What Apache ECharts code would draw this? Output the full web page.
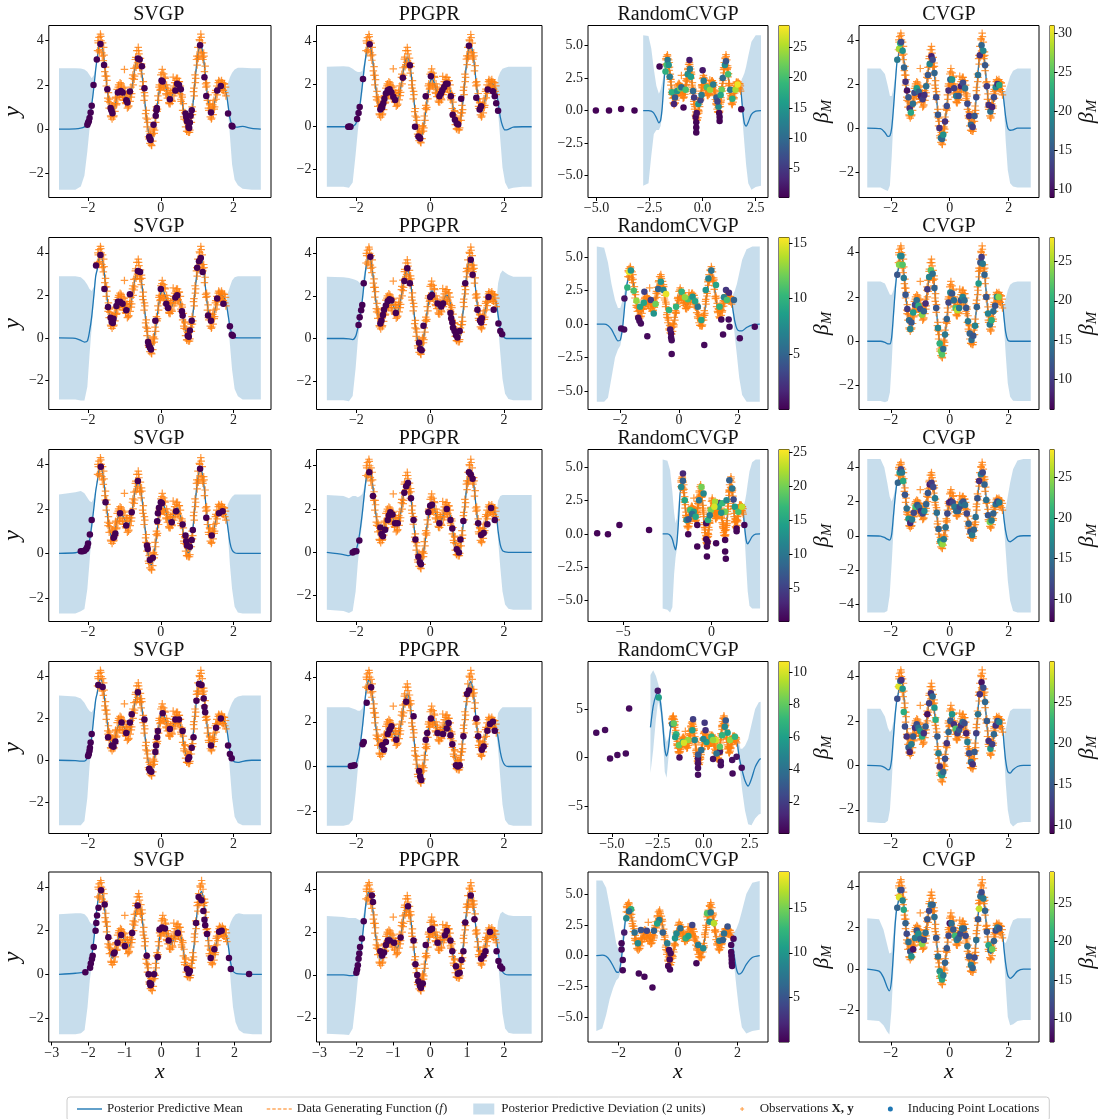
<!DOCTYPE html>
<html>
<head>
<meta charset="utf-8">
<script src="https://cdn.jsdelivr.net/npm/echarts@6/dist/echarts.min.js"></script>
<style>
html,body{margin:0;padding:0;background:#fff}
#chart{width:1101px;height:1119px}
</style>
</head>
<body>
<div id="chart"></div>
<script>
// ---- data -------------------------------------------------------------
const modelNames = ['SVGP', 'PPGPR', 'RandomCVGP', 'CVGP'];

// data generating function f over the observed range
const fX = [-1.75,-1.7,-1.65,-1.6,-1.55,-1.5,-1.45,-1.4,-1.35,-1.3,-1.25,-1.2,-1.15,-1.1,-1.05,-1.0,-0.95,-0.9,-0.85,-0.8,-0.75,-0.7,-0.65,-0.6,-0.55,-0.5,-0.45,-0.4,-0.35,-0.3,-0.25,-0.2,-0.15,-0.1,-0.05,0.0,0.05,0.1,0.15,0.2,0.25,0.3,0.35,0.4,0.45,0.5,0.55,0.6,0.65,0.7,0.75,0.8,0.85,0.9,0.95,1.0,1.05,1.1,1.15,1.2,1.25,1.3,1.35,1.4,1.45,1.5,1.55,1.6,1.65,1.7,1.75,1.8];
const fY = [3.2,3.72,3.9,3.62,3.0,2.2,1.5,1.0,0.75,0.8,1.1,1.5,1.72,1.8,1.7,1.55,1.36,1.25,1.4,1.8,2.35,2.85,3.18,3.2,2.88,2.2,1.4,0.6,-0.02,-0.45,-0.5,-0.2,0.35,1.0,1.65,2.1,2.24,2.1,1.8,1.5,1.38,1.45,1.7,1.95,2.04,1.95,1.6,1.1,0.6,0.2,0.02,0.1,0.62,1.4,2.35,3.15,3.65,3.8,3.5,2.85,2.0,1.3,0.85,0.75,0.95,1.4,1.8,2.0,2.03,1.98,1.85,1.6];

// noisy observations X, y
const obsX = [-1.74,-1.72,-1.7,-1.68,-1.66,-1.64,-1.62,-1.6,-1.58,-1.56,-1.54,-1.52,-1.5,-1.48,-1.46,-1.44,-1.42,-1.4,-1.38,-1.36,-1.34,-1.32,-1.3,-1.28,-1.26,-1.24,-1.22,-1.2,-1.18,-1.16,-1.14,-1.12,-1.1,-1.08,-1.06,-1.04,-1.02,-1.0,-0.98,-0.96,-0.94,-0.92,-0.9,-0.88,-0.86,-0.84,-0.82,-0.8,-0.78,-0.76,-0.74,-0.72,-0.7,-0.68,-0.66,-0.64,-0.62,-0.6,-0.58,-0.56,-0.54,-0.52,-0.5,-0.48,-0.46,-0.44,-0.42,-0.4,-0.38,-0.36,-0.34,-0.32,-0.3,-0.28,-0.26,-0.24,-0.22,-0.2,-0.18,-0.16,-0.14,-0.12,-0.1,-0.08,-0.06,-0.04,-0.02,0.0,0.02,0.04,0.06,0.08,0.1,0.12,0.14,0.16,0.18,0.2,0.22,0.24,0.26,0.28,0.3,0.32,0.34,0.36,0.38,0.4,0.42,0.44,0.46,0.48,0.5,0.52,0.54,0.56,0.58,0.6,0.62,0.64,0.66,0.68,0.7,0.72,0.74,0.76,0.78,0.8,0.82,0.84,0.86,0.88,0.9,0.92,0.94,0.96,0.98,1.0,1.02,1.04,1.06,1.08,1.1,1.12,1.14,1.16,1.18,1.2,1.22,1.24,1.26,1.28,1.3,1.32,1.34,1.36,1.38,1.4,1.42,1.44,1.46,1.48,1.5,1.52,1.54,1.56,1.58,1.6,1.62,1.64,1.66,1.68,1.7,1.72,1.74,1.76,1.78,
  -1.73,-1.69,-1.65,-1.61,-1.57,-1.53,-1.49,-1.45,-1.41,-1.37,-1.33,-1.29,-1.25,-1.21,-1.17,-1.13,-1.09,-1.05,-1.01,-0.97,-0.93,-0.89,-0.85,-0.81,-0.77,-0.73,-0.69,-0.65,-0.61,-0.57,-0.53,-0.49,-0.45,-0.41,-0.37,-0.33,-0.29,-0.25,-0.21,-0.17,-0.13,-0.09,-0.05,-0.01,0.03,0.07,0.11,0.15,0.19,0.23,0.27,0.31,0.35,0.39,0.43,0.47,0.51,0.55,0.59,0.63,0.67,0.71,0.75,0.79,0.83,0.87,0.91,0.95,0.99,1.03,1.07,1.11,1.15,1.19,1.23,1.27,1.31,1.35,1.39,1.43,1.47,1.51,1.55,1.59,1.63,1.67,1.71,1.75,1.79];
const obsY = [3.55,3.9,4.15,3.6,4.3,4.0,3.45,3.9,3.1,3.35,2.6,2.8,1.95,2.2,1.4,1.65,0.95,1.2,0.6,1.0,0.45,0.95,0.55,1.15,0.8,1.45,1.1,1.8,1.35,2.0,1.55,2.1,1.6,1.95,1.45,1.9,1.3,2.7,1.7,1.15,1.55,0.95,1.45,1.05,1.6,1.25,1.9,1.6,2.3,2.0,2.75,2.4,3.15,2.8,3.55,3.0,3.7,3.4,2.8,3.2,2.5,2.8,1.95,2.15,1.3,1.5,0.7,0.85,0.1,0.3,-0.35,-0.1,-0.65,-0.3,-0.72,-0.25,-0.55,0.05,-0.2,0.5,0.3,1.0,0.8,1.5,1.3,2.0,1.75,2.45,1.95,2.7,2.0,2.5,1.85,2.3,1.6,2.0,1.4,1.75,1.2,1.6,1.15,1.65,1.3,1.75,2.35,1.5,2.1,1.75,2.2,1.85,2.3,1.8,2.15,1.6,1.95,1.25,1.55,0.85,1.15,0.45,0.75,0.1,0.4,-0.1,0.25,-0.15,0.3,-0.05,0.5,0.3,1.0,0.8,1.7,1.5,2.45,2.3,3.15,2.9,3.7,3.3,4.05,3.5,4.3,3.45,3.9,3.15,3.45,2.6,2.85,1.9,2.1,1.3,1.55,0.85,1.15,0.55,0.95,0.5,1.0,0.65,1.3,1.0,1.65,1.35,1.95,1.7,2.1,1.85,2.15,1.9,2.1,1.8,2.1,1.75,2.05,1.65,1.9,
  4.0,3.5,4.2,3.3,3.7,2.4,2.4,1.25,1.35,0.55,1.05,0.6,1.4,1.15,1.9,1.45,2.05,1.45,1.85,1.2,1.6,1.0,1.7,1.45,2.45,2.25,3.25,2.9,3.55,2.75,2.95,1.8,1.65,0.5,0.45,-0.45,-0.2,-0.75,0.0,-0.05,0.85,0.9,1.9,1.8,2.55,1.9,2.35,1.55,1.85,1.15,1.65,1.25,1.95,1.65,2.3,1.75,2.15,1.35,1.45,0.55,0.7,-0.1,0.25,-0.15,0.65,0.65,1.85,2.1,3.3,3.2,4.0,4.15,3.25,3.3,2.05,1.95,0.95,1.1,0.45,1.1,0.9,1.75,1.55,2.2,1.85,2.2,1.75,2.05,1.5];

// posterior tails outside the data: [x, mean, lower, upper], one list per panel (row-major)
const tailsLeft = [
  [[-2.8,0,-2.75,2.75],[-2.35,0.01,-2.75,2.75],[-2.2,0.04,-2.6,2.74],[-2.1,0.1,-2.1,2.7],[-2.02,0.22,-1.0,2.6],[-1.96,0.45,0.0,2.45],[-1.9,1.1,0.8,2.3],[-1.84,1.9,1.75,2.45],[-1.79,2.7,2.6,2.85]],
  [[-2.8,0,-2.8,2.8],[-2.35,0,-2.8,2.82],[-2.2,0,-2.85,2.8],[-2.1,0.02,-2.6,2.7],[-2.02,0.12,-1.3,2.6],[-1.96,0.45,-0.2,2.55],[-1.9,1.05,0.7,2.55],[-1.84,1.9,1.5,2.6],[-1.79,2.7,2.4,3.0]],
  [[-2.8,0,-5.8,5.8],[-2.55,0,-5.6,5.75],[-2.42,-0.05,-3.5,4.8],[-2.3,-0.2,-1.8,3.2],[-2.18,-0.55,-1.5,1.9],[-2.06,-0.95,-1.5,1.3],[-1.98,-0.75,-1.2,1.6],[-1.9,0.3,-0.3,2.2],[-1.83,2.0,1.6,2.8],[-1.78,3.0,2.8,3.4]],
  [[-2.8,0,-2.7,2.7],[-2.35,-0.03,-2.7,2.7],[-2.2,-0.2,-2.8,2.45],[-2.1,-0.38,-2.85,1.9],[-2.03,-0.35,-2.6,1.45],[-1.97,0.0,-1.3,1.45],[-1.91,0.9,0.4,1.8],[-1.85,2.0,1.7,2.4],[-1.79,3.0,2.85,3.2]],
  [[-2.8,0,-2.9,2.9],[-2.35,-0.02,-2.9,2.9],[-2.2,-0.12,-2.95,2.85],[-2.1,-0.2,-2.95,2.7],[-2.02,-0.15,-2.3,2.5],[-1.96,0.3,-0.8,2.3],[-1.9,1.0,0.5,2.2],[-1.84,2.0,1.8,2.4],[-1.79,2.9,2.8,3.1]],
  [[-2.8,0,-2.9,2.9],[-2.35,0,-2.9,2.88],[-2.2,-0.02,-2.95,2.85],[-2.1,-0.05,-2.7,2.8],[-2.02,0.1,-1.4,2.75],[-1.96,0.5,-0.1,2.7],[-1.9,1.1,0.7,2.6],[-1.84,1.8,1.4,2.7],[-1.79,2.6,2.3,3.0]],
  [[-2.8,0,-5.8,5.8],[-2.55,0,-5.8,5.7],[-2.42,-0.1,-5.5,4.6],[-2.3,-0.4,-4.0,3.0],[-2.18,-0.9,-2.5,1.8],[-2.08,-1.25,-1.9,1.2],[-2.0,-1.2,-1.6,1.2],[-1.92,-0.2,-0.7,1.8],[-1.84,1.6,1.3,2.6],[-1.78,2.9,2.7,3.3]],
  [[-2.8,0,-2.7,2.7],[-2.35,0,-2.7,2.7],[-2.2,-0.05,-2.75,2.6],[-2.1,-0.12,-2.7,2.3],[-2.03,-0.12,-2.3,2.1],[-1.97,0.2,-1.0,2.1],[-1.91,1.2,0.7,2.3],[-1.85,2.3,2.0,2.7],[-1.79,3.1,2.9,3.3]],
  [[-2.8,0,-2.7,2.65],[-2.35,0.03,-2.7,2.75],[-2.2,0.08,-2.6,2.8],[-2.1,0.12,-2.5,2.7],[-2.02,0.28,-1.6,2.5],[-1.96,0.6,-0.4,2.35],[-1.9,1.25,0.9,2.3],[-1.84,2.05,1.9,2.5],[-1.79,2.8,2.7,2.95]],
  [[-2.8,0,-2.65,2.65],[-2.35,-0.1,-2.7,2.6],[-2.2,-0.15,-2.8,2.5],[-2.1,-0.05,-2.7,2.6],[-2.02,0.05,-1.8,2.6],[-1.96,0.4,-0.5,2.55],[-1.9,1.0,0.5,2.6],[-1.84,1.8,1.4,2.7],[-1.79,2.6,2.3,3.0]],
  [[-2.77,0,-5.6,5.6],[-2.5,0,-5.7,5.5],[-2.35,-0.1,-5.9,4.8],[-2.22,-0.4,-5.5,3.2],[-2.12,-0.9,-3.0,1.6],[-2.04,-1.2,-1.8,0.8],[-1.96,-0.6,-1.1,1.2],[-1.88,0.8,0.3,2.2],[-1.82,2.2,1.8,3.0],[-1.77,3.2,3.0,3.6]],
  [[-2.8,0,-4.5,4.5],[-2.35,-0.02,-4.5,4.5],[-2.22,-0.1,-4.5,4.0],[-2.12,-0.2,-4.4,3.1],[-2.04,-0.25,-3.5,2.3],[-1.97,0.1,-1.6,2.0],[-1.91,1.2,0.3,2.3],[-1.85,2.3,2.0,2.8],[-1.79,3.1,2.9,3.3]],
  [[-2.8,0,-3.1,3.1],[-2.35,-0.02,-3.1,3.05],[-2.2,-0.04,-3.1,2.95],[-2.1,-0.04,-2.9,2.75],[-2.02,0.1,-1.8,2.5],[-1.96,0.4,-0.3,2.35],[-1.9,1.1,0.8,2.3],[-1.84,2.1,1.9,2.5],[-1.79,2.9,2.8,3.05]],
  [[-2.8,0,-2.65,2.65],[-2.35,0,-2.65,2.65],[-2.2,0,-2.6,2.65],[-2.1,0.02,-2.4,2.6],[-2.02,0.1,-1.2,2.55],[-1.96,0.4,-0.1,2.5],[-1.9,0.95,0.6,2.5],[-1.84,1.7,1.4,2.6],[-1.79,2.5,2.2,2.9]],
  [[-2.9,3.1,-1.6,8.5],[-2.75,5.3,0.8,9.0],[-2.6,6.4,4.0,8.4],[-2.48,6.7,5.8,7.6],[-2.35,5.6,4.6,6.6],[-2.22,3.2,2.0,4.4],[-2.12,0.9,-1.5,2.4],[-2.02,0.15,-2.1,1.6],[-1.92,1.0,0.0,2.0],[-1.83,2.6,2.1,3.0],[-1.77,3.3,3.1,3.5]],
  [[-2.8,0,-2.55,2.55],[-2.35,-0.02,-2.6,2.55],[-2.2,-0.1,-2.6,2.2],[-2.1,-0.2,-2.5,1.7],[-2.03,-0.15,-2.0,1.5],[-1.97,0.3,-0.8,1.6],[-1.91,1.3,0.8,2.0],[-1.85,2.3,2.0,2.6],[-1.79,3.0,2.85,3.2]],
  [[-2.8,0,-2.75,2.75],[-2.35,0.05,-2.75,2.8],[-2.2,0.08,-2.7,2.8],[-2.1,0.1,-2.55,2.75],[-2.02,0.2,-1.5,2.6],[-1.96,0.45,-0.3,2.4],[-1.9,0.9,0.5,2.3],[-1.84,1.7,1.5,2.45],[-1.79,2.6,2.45,2.9]],
  [[-2.8,0,-2.75,2.75],[-2.35,0,-2.78,2.7],[-2.2,-0.03,-2.8,2.65],[-2.1,-0.03,-2.5,2.65],[-2.02,0.05,-1.3,2.65],[-1.96,0.35,-0.2,2.6],[-1.9,0.9,0.5,2.55],[-1.84,1.7,1.3,2.65],[-1.79,2.5,2.2,2.95]],
  [[-2.75,0,-6.1,6.1],[-2.55,0.05,-5.9,6.1],[-2.42,-0.05,-4.8,5.5],[-2.3,-0.35,-3.5,4.0],[-2.18,-0.85,-2.6,2.4],[-2.08,-1.3,-2.0,1.0],[-2.0,-1.35,-1.8,0.5],[-1.92,-0.5,-1.2,1.0],[-1.84,1.2,0.8,2.3],[-1.78,2.7,2.5,3.1]],
  [[-2.8,0,-2.45,2.45],[-2.4,-0.1,-2.5,2.4],[-2.25,-0.4,-2.7,1.9],[-2.13,-0.85,-3.0,1.2],[-2.05,-1.05,-3.15,0.75],[-1.98,-0.6,-2.0,0.8],[-1.91,0.8,0.0,1.8],[-1.85,2.2,1.8,2.7],[-1.79,3.0,2.85,3.2]]
];
const tailsRight = [
  [[1.84,1.2,1.0,2.05],[1.9,0.5,-0.3,2.35],[1.96,0.2,-1.6,2.55],[2.03,0.1,-2.3,2.7],[2.12,0.09,-2.55,2.78],[2.25,0.12,-2.7,2.78],[2.5,0.03,-2.75,2.75],[2.75,0,-2.75,2.75]],
  [[1.84,1.15,0.7,2.3],[1.9,0.45,-0.6,2.55],[1.96,0.05,-1.9,2.7],[2.03,-0.15,-2.6,2.75],[2.12,-0.12,-2.9,2.8],[2.25,-0.02,-2.85,2.8],[2.5,0,-2.8,2.8],[2.75,0,-2.8,2.8]],
  [[1.84,0.9,0.4,2.4],[1.9,-0.2,-1.2,2.6],[1.97,-1.0,-2.6,2.9],[2.05,-1.2,-4.2,3.4],[2.15,-0.9,-5.6,4.2],[2.3,-0.3,-6.1,5.3],[2.5,-0.05,-5.9,5.8],[2.75,0,-5.8,5.8]],
  [[1.84,1.2,0.9,1.6],[1.9,0.5,-0.6,1.7],[1.97,0.0,-1.9,2.0],[2.05,-0.1,-2.5,2.35],[2.15,-0.08,-2.65,2.6],[2.3,0,-2.7,2.7],[2.5,0,-2.7,2.7],[2.75,0,-2.7,2.7]],
  [[1.84,1.2,1.0,2.1],[1.9,0.55,-0.3,2.4],[1.96,0.15,-1.5,2.7],[2.03,0.02,-2.4,2.85],[2.12,0,-2.75,2.9],[2.25,0,-2.9,2.9],[2.5,0,-2.9,2.9],[2.75,0,-2.9,2.9]],
  [[1.84,1.1,0.6,2.6],[1.9,0.45,-0.7,3.05],[1.96,0.15,-1.9,3.2],[2.03,0.02,-2.6,3.1],[2.12,0,-2.85,3.0],[2.25,0,-2.9,2.9],[2.5,0,-2.9,2.9],[2.75,0,-2.9,2.9]],
  [[1.84,1.0,0.5,2.2],[1.9,0.2,-0.9,2.5],[1.97,-0.35,-2.3,3.0],[2.05,-0.5,-4.0,3.8],[2.15,-0.5,-5.3,4.8],[2.3,-0.25,-5.8,5.6],[2.5,-0.05,-5.8,5.8],[2.75,0,-5.8,5.8]],
  [[1.84,1.1,0.7,1.6],[1.9,0.4,-0.6,1.9],[1.97,0.05,-1.9,2.3],[2.05,0,-2.5,2.55],[2.15,0,-2.68,2.65],[2.3,0,-2.7,2.7],[2.5,0,-2.7,2.7],[2.75,0,-2.7,2.7]],
  [[1.84,1.2,1.0,2.2],[1.9,0.5,-0.5,2.4],[1.96,0.15,-1.6,2.55],[2.03,0.03,-2.4,2.65],[2.12,0,-2.65,2.65],[2.25,0,-2.7,2.65],[2.5,0,-2.7,2.65],[2.75,0,-2.7,2.65]],
  [[1.84,1.0,0.6,2.4],[1.9,0.35,-0.7,2.6],[1.96,0.08,-1.8,2.65],[2.03,0.02,-2.4,2.65],[2.12,0,-2.6,2.65],[2.25,0,-2.65,2.65],[2.5,0,-2.65,2.65],[2.75,0,-2.65,2.65]],
  [[1.84,1.0,0.4,2.2],[1.9,0.2,-0.8,2.5],[1.97,-0.5,-2.5,3.0],[2.05,-0.75,-4.3,3.8],[2.15,-0.55,-5.4,4.7],[2.3,-0.2,-5.6,5.4],[2.5,-0.02,-5.6,5.6],[2.75,0,-5.6,5.6]],
  [[1.84,1.0,0.6,1.4],[1.9,0.25,-0.9,1.6],[1.97,-0.25,-2.6,2.3],[2.05,-0.35,-3.8,3.1],[2.15,-0.25,-4.4,3.9],[2.3,-0.05,-4.5,4.4],[2.5,0,-4.5,4.5],[2.75,0,-4.5,4.5]],
  [[1.84,1.2,1.0,2.2],[1.9,0.45,-0.5,2.5],[1.96,0.05,-1.8,2.75],[2.03,-0.08,-2.7,2.95],[2.12,-0.1,-3.0,3.05],[2.25,-0.05,-3.1,3.1],[2.5,0,-3.1,3.1],[2.75,0,-3.1,3.1]],
  [[1.84,1.3,0.8,2.4],[1.9,0.65,-0.5,2.55],[1.96,0.25,-1.7,2.65],[2.03,0.05,-2.4,2.65],[2.12,0,-2.6,2.65],[2.25,0,-2.65,2.65],[2.5,0,-2.65,2.65],[2.75,0,-2.65,2.65]],
  [[1.84,1.3,0.9,2.2],[1.92,0.2,-0.6,1.6],[2.0,-0.6,-1.8,0.9],[2.1,-1.4,-3.5,0.9],[2.25,-2.4,-5.5,1.2],[2.42,-2.95,-6.9,1.9],[2.6,-2.2,-7.0,3.4],[2.8,-1.0,-6.3,5.0],[3.0,-0.3,-5.9,5.7],[3.1,-0.1,-5.8,5.75]],
  [[1.84,1.0,0.6,1.3],[1.9,0.2,-0.8,1.6],[1.97,-0.28,-2.0,2.1],[2.05,-0.35,-2.6,2.45],[2.15,-0.2,-2.75,2.55],[2.3,-0.05,-2.6,2.55],[2.5,0,-2.55,2.55],[2.75,0,-2.55,2.55]],
  [[1.84,1.2,1.0,2.1],[1.9,0.5,-0.4,2.4],[1.96,0.15,-1.5,2.6],[2.03,0.05,-2.2,2.75],[2.12,0.02,-2.55,2.8],[2.25,0.01,-2.7,2.75],[2.5,0,-2.75,2.75],[2.75,0,-2.75,2.75]],
  [[1.84,1.1,0.6,2.5],[1.9,0.45,-0.6,2.85],[1.96,0.15,-1.8,2.95],[2.03,0.03,-2.5,2.85],[2.12,0,-2.7,2.78],[2.25,0,-2.75,2.75],[2.5,0,-2.75,2.75],[2.75,0,-2.75,2.75]],
  [[1.84,0.8,0.3,1.8],[1.9,-0.1,-1.0,1.9],[1.97,-1.1,-2.6,2.2],[2.05,-1.5,-4.3,2.7],[2.15,-1.35,-5.8,3.6],[2.3,-0.7,-6.3,5.0],[2.5,-0.15,-6.1,5.9],[2.75,0,-6.0,6.05]],
  [[1.84,1.0,0.6,1.3],[1.9,0.25,-0.8,1.25],[1.97,-0.3,-2.3,1.5],[2.05,-0.45,-2.7,2.0],[2.15,-0.35,-2.65,2.35],[2.3,-0.1,-2.5,2.45],[2.5,0,-2.45,2.45],[2.75,0,-2.45,2.45]]
];
// half width of the 2-sd band inside the data range, per model column
const coreHalfWidth = [0.08, 0.22, 0.18, 0.08];

// inducing point locations: [x, y] or [x, y, beta_M]
const inducing = [
  [[-2.02,0.2],[-2.0,0.28],[-1.98,0.35],[-1.96,0.5],[-1.93,0.75],[-1.9,1.05],[-1.85,2.0],[-1.76,3.15],[-1.66,3.85],[-1.56,2.9],[-1.47,1.8],[-1.38,0.95],[-1.36,0.85],[-1.33,0.72],[-1.18,1.65],[-1.1,1.72],[-1.05,1.65],[-0.95,1.3],[-0.92,1.2],[-0.85,1.7],[-0.63,3.2],[-0.58,3.15],[-0.52,2.85],[-0.45,1.85],[-0.32,-0.35],[-0.3,-0.45],[-0.28,-0.5],[-0.2,0.2],[-0.14,0.6],[-0.12,0.85],[-0.11,0.95],[0.02,2.2],[0.05,2.15],[0.25,1.35],[0.4,1.75],[0.45,2.05],[0.5,2.0],[0.55,1.8],[0.68,0.7],[0.7,0.55],[0.72,0.35],[0.76,0.1],[0.78,0.05],[0.8,0.3],[0.82,0.6],[0.85,0.85],[1.08,3.8],[1.2,2.35],[1.25,1.5],[1.38,0.75],[1.55,1.75],[1.65,1.95],[1.85,0.7],[1.95,0.15],[1.97,0.12]],
  [[-2.22,0.0],[-2.2,0.0],[-2.18,0.0],[-2.16,0.0],[-1.98,0.36],[-1.94,0.64],[-1.91,0.92],[-1.82,2.23],[-1.64,3.84],[-1.35,0.8],[-1.32,0.95],[-1.3,0.9],[-1.27,1.1],[-1.24,1.3],[-1.2,1.55],[-1.15,1.7],[-1.1,1.75],[-1.05,1.6],[-1.0,1.4],[-0.95,1.25],[-0.74,2.28],[-0.55,2.87],[-0.41,0.0],[-0.32,-0.45],[-0.29,-0.5],[-0.27,-0.55],[-0.12,1.42],[0.02,2.35],[0.25,1.42],[0.29,1.55],[0.33,1.7],[0.38,1.85],[0.43,2.0],[0.47,2.0],[0.56,1.42],[0.61,0.56],[0.67,0.33],[0.72,0.15],[0.76,0.1],[0.84,1.3],[1.05,3.77],[1.25,1.35],[1.34,0.8],[1.38,0.95],[1.56,1.73],[1.7,1.65],[1.75,1.42],[1.79,1.1],[1.84,0.75]],
  [[-5.03,0.0,0.4],[-4.41,0.0,0.4],[-3.84,0.12,0.4],[-3.21,0.0,0.4],[-2.03,3.4,0.5],[1.82,0.1,0.5],[-0.9,0.23,0.5],[-0.33,-0.5,0.6],[-0.3,-0.9,0.5],[-0.3,-1.3,0.4],[-0.3,-1.7,0.5],[-0.28,-0.2,1.5],[0.78,-0.2,0.6],[0.8,-0.5,0.5],[0.8,-0.8,0.4],[-1.35,0.5,3],[-0.62,3.9,2],[0.0,3.1,2],[-1.75,3.0,18],[-1.7,3.5,20],[-1.65,3.9,12],[-1.6,3.5,15],[-1.55,2.6,12],[-1.45,1.4,18],[-1.2,1.5,15],[-1.05,1.7,22],[-1.0,1.8,10],[-0.8,1.6,20],[-0.7,2.8,14],[-0.6,3.2,12],[-0.55,2.6,16],[-0.45,1.5,10],[-0.2,0.5,15],[-0.1,0.8,6],[-0.05,1.2,12],[0.05,2.3,12],[0.2,1.8,20],[0.35,1.6,24],[0.5,2.0,12],[0.65,1.0,9],[0.75,0.3,14],[0.9,1.6,22],[0.95,2.5,10],[1.05,3.5,14],[1.1,3.8,8],[1.2,2.8,20],[1.3,1.6,12],[1.4,0.9,18],[1.55,1.6,25],[1.65,2.0,28],[-1.3,1.0,8],[-0.4,1.0,5],[0.7,0.7,6],[0.85,1.2,17]],
  [[-1.78,3.1,18],[-1.72,3.6,28],[-1.68,3.85,22],[-1.65,3.9,14],[-1.6,3.5,20],[-1.55,2.75,16],[-1.5,2.1,12],[-1.45,1.7,10],[-1.4,1.4,15],[-1.36,0.9,12],[-1.32,0.7,22],[-1.25,1.1,17],[-1.2,1.6,14],[-1.12,1.8,21],[-1.05,1.65,16],[-0.98,1.45,11],[-0.92,1.3,13],[-0.86,1.5,12],[-0.8,1.9,17],[-0.74,2.4,15],[-0.68,2.9,19],[-0.62,3.25,11],[-0.58,3.1,14],[-0.52,2.5,16],[-0.46,1.4,14],[-0.4,0.6,15],[-0.35,0.0,12],[-0.3,-0.45,18],[-0.26,-0.5,16],[-0.22,-0.3,20],[-0.16,0.3,12],[-0.1,1.0,14],[-0.04,1.7,12],[0.02,2.2,16],[0.08,2.2,20],[0.15,1.8,13],[0.22,1.45,18],[0.3,1.45,15],[0.38,1.9,11],[0.45,2.05,14],[0.52,1.8,17],[0.6,1.1,14],[0.66,0.55,12],[0.72,0.15,16],[0.78,0.05,13],[0.84,0.55,15],[0.9,1.4,14],[0.96,2.4,17],[1.02,3.3,12],[1.08,3.75,16],[1.14,3.5,19],[1.2,2.85,15],[1.26,1.9,13],[1.32,1.05,12],[1.38,0.75,17],[1.44,0.95,11],[1.5,1.4,14],[1.56,1.85,19],[1.62,2.0,12],[1.68,1.95,22]],
  [[-1.78,3.4],[-1.66,3.9],[-1.55,2.3],[-1.45,1.45],[-1.38,0.95],[-1.35,0.75],[-1.32,0.7],[-1.3,0.9],[-1.22,1.5],[-1.18,1.7],[-1.12,1.7],[-1.05,1.6],[-0.95,1.3],[-0.85,2.05],[-0.63,3.15],[-0.57,3.1],[-0.35,-0.2],[-0.33,-0.35],[-0.3,-0.45],[-0.27,-0.55],[-0.15,0.8],[0.0,2.3],[0.15,1.6],[0.2,1.4],[0.4,1.9],[0.45,2.0],[0.58,1.25],[0.6,1.05],[0.74,0.1],[0.77,0.05],[0.8,0.35],[0.85,0.8],[1.0,3.3],[1.05,3.6],[1.1,3.75],[1.15,3.1],[1.3,1.05],[1.38,0.8],[1.55,1.85],[1.72,1.6],[1.9,0.55],[1.95,0.15],[1.98,0.1]],
  [[-1.94,0.63],[-1.91,1.0],[-1.87,1.33],[-1.84,1.57],[-1.8,2.6],[-1.62,3.84],[-1.35,0.7],[-1.32,0.85],[-1.28,1.1],[-1.25,1.35],[-1.2,1.55],[-1.15,1.75],[-1.1,1.85],[-1.05,1.8],[-0.93,1.2],[-0.7,2.7],[-0.62,3.3],[-0.55,2.6],[-0.3,-0.2],[-0.27,-0.5],[-0.23,-0.55],[-0.18,0.6],[0.0,1.95],[0.05,2.05],[0.2,1.65],[0.3,1.5],[0.35,1.65],[0.55,1.2],[0.57,0.95],[0.6,0.75],[0.62,0.5],[0.66,0.35],[0.7,0.15],[0.74,0.05],[0.8,0.35],[0.95,2.6],[1.1,3.7],[1.15,3.0],[1.28,1.35],[1.35,0.85],[1.38,0.75],[1.4,0.95],[1.58,1.95],[1.72,1.35],[1.85,0.7],[1.9,0.35],[1.95,0.2]],
  [[-1.97,-0.32,0.4],[-1.87,-0.4,0.4],[-1.86,1.92,0.8],[-1.08,-0.9,0.4],[-1.39,0.47,0.6],[-1.35,0.25,0.5],[-1.3,0.05,0.5],[-0.25,-2.24,0.4],[-0.27,-0.7,0.6],[-0.27,-1.0,0.5],[-0.25,-1.2,0.5],[-0.3,-0.4,1.0],[0.86,-1.57,0.4],[1.44,0.35,0.5],[1.5,-0.77,0.4],[1.69,0.35,0.6],[1.72,-0.2,0.5],[2.07,-1.05,0.4],[2.58,-0.2,0.4],[1.6,2.55,2.5],[1.7,2.35,2],[-1.18,2.42,3],[-0.96,1.8,3],[-1.76,2.74,10],[-1.7,3.9,15],[-1.64,4.0,8],[-1.54,2.5,11],[-1.45,1.75,13],[-1.33,1.3,9],[-0.86,0.8,8],[-0.71,2.62,5],[-0.62,3.17,8],[-0.53,2.55,7],[-0.44,2.24,15],[-0.34,1.05,10],[-0.1,1.3,10],[0.09,2.42,10],[0.3,1.85,11],[0.46,2.05,8],[0.64,1.3,6],[0.76,0.3,9],[0.91,2.55,8],[1.1,4.0,6],[1.26,2.92,9],[1.38,1.3,10],[1.53,2.0,7],[1.63,1.8,11],[1.87,1.8,5],[-1.2,1.6,9],[-0.8,1.5,12],[0.2,2.0,13],[0.55,1.7,9],[1.0,3.4,7]],
  [[-1.78,3.0,12],[-1.72,3.45,24],[-1.68,3.85,18],[-1.64,3.85,16],[-1.6,3.45,22],[-1.56,2.85,15],[-1.5,2.1,12],[-1.44,1.45,10],[-1.38,0.95,14],[-1.34,0.55,16],[-1.3,0.85,12],[-1.24,1.3,18],[-1.18,1.65,11],[-1.12,1.85,14],[-1.06,1.6,20],[-1.0,1.45,12],[-0.94,1.2,24],[-0.88,1.35,13],[-0.82,1.7,9],[-0.76,2.35,10],[-0.7,2.9,16],[-0.64,3.2,22],[-0.58,3.05,14],[-0.52,2.4,13],[-0.46,1.5,12],[-0.4,0.6,16],[-0.34,-0.1,20],[-0.3,-0.45,24],[-0.26,-0.6,22],[-0.22,-0.35,14],[-0.16,0.3,15],[-0.1,1.0,13],[-0.04,1.75,11],[0.02,2.2,16],[0.08,2.15,12],[0.14,1.85,14],[0.2,1.5,22],[0.26,1.4,26],[0.32,1.5,15],[0.38,1.85,12],[0.44,2.0,16],[0.5,1.85,14],[0.56,1.5,12],[0.62,0.9,15],[0.68,0.35,13],[0.74,0.05,14],[0.8,0.25,12],[0.86,0.7,16],[0.92,1.55,13],[0.98,2.6,18],[1.04,3.55,12],[1.08,3.8,10],[1.12,3.5,15],[1.18,3.0,13],[1.24,2.0,12],[1.3,1.25,16],[1.36,0.75,15],[1.42,0.95,20],[1.48,1.35,14],[1.54,1.6,12],[1.6,2.0,16],[1.66,2.0,24]],
  [[-2.2,0.1],[-2.15,0.1],[-2.1,0.12],[-2.05,0.2],[-2.02,0.3],[-2.0,0.45],[-1.95,0.85],[-1.9,1.5],[-1.65,3.9],[-1.52,2.3],[-1.3,0.7],[-1.28,0.75],[-1.25,0.9],[-1.12,1.8],[-0.95,1.25],[-0.8,1.85],[-0.63,3.25],[-0.38,0.35],[-0.36,0.2],[-0.3,-0.3],[-0.22,-0.2],[-0.1,1.45],[-0.08,1.8],[-0.05,2.05],[0.0,2.3],[0.03,2.25],[0.3,1.4],[0.42,1.9],[0.6,1.3],[0.68,0.8],[0.7,0.55],[0.72,0.35],[0.8,0.3],[0.85,0.6],[0.88,1.05],[1.08,3.8],[1.25,1.6],[1.4,0.8],[1.6,1.8],[1.7,1.9]],
  [[-2.1,0.0],[-2.05,0.05],[-2.0,0.05],[-1.92,0.55],[-1.65,3.7],[-1.55,2.6],[-1.35,1.15],[-1.32,0.85],[-1.28,0.75],[-1.22,1.05],[-1.15,1.5],[-1.12,1.7],[-1.08,1.85],[-1.02,1.75],[-0.95,1.35],[-0.88,1.35],[-0.7,2.75],[-0.65,3.05],[-0.6,3.2],[-0.52,2.5],[-0.45,1.5],[-0.4,0.6],[-0.32,-0.2],[-0.28,-0.45],[-0.25,-0.55],[-0.05,1.85],[0.0,2.15],[0.05,2.2],[0.25,1.35],[0.45,2.0],[0.55,1.5],[0.6,1.1],[0.72,0.15],[0.78,0.0],[0.82,0.6],[0.9,1.45],[1.05,3.7],[1.1,3.6],[1.15,3.4],[1.3,1.35],[1.38,0.8],[1.45,0.9],[1.55,1.3],[1.65,2.05],[1.75,1.5]],
  [[-6.48,0.05,0.4],[-5.87,-0.02,0.4],[-5.22,0.67,0.4],[-3.54,0.3,0.4],[-1.62,4.54,3],[-1.32,-0.02,0.5],[-0.81,-0.95,0.4],[-0.81,0.67,0.6],[-0.26,-1.7,0.4],[-0.26,-0.95,0.5],[-0.3,-0.4,0.7],[-0.22,-0.6,0.5],[0.26,-0.7,0.5],[0.77,-0.45,0.5],[0.77,-1.32,0.4],[0.81,-1.87,0.4],[1.42,0.42,0.5],[1.42,0.2,0.6],[1.86,0.67,0.5],[0.45,2.3,4],[0.3,2.2,3],[-0.3,0.8,1],[-1.72,3.54,12],[-1.62,4.0,8],[-1.52,2.54,15],[-1.42,1.05,12],[-1.21,1.8,18],[-1.01,1.67,14],[-0.71,2.54,10],[-0.57,3.54,20],[-0.45,3.04,12],[-0.2,1.05,16],[-0.04,1.8,20],[0.2,2.42,22],[0.4,2.04,15],[0.61,2.3,17],[0.85,2.54,12],[1.01,4.04,8],[1.17,3.42,10],[1.32,2.04,14],[1.52,1.67,18],[1.72,2.04,23],[0.77,1.67,20],[0.16,2.04,24],[-1.1,1.5,9],[-0.9,1.3,15],[-0.1,1.4,11],[0.55,1.6,13],[1.25,2.6,6],[-1.3,1.1,7]],
  [[-1.76,3.1,14],[-1.7,3.7,18],[-1.66,3.9,12],[-1.62,3.7,16],[-1.58,3.2,20],[-1.52,2.4,13],[-1.46,1.6,15],[-1.4,1.0,18],[-1.34,0.75,10],[-1.28,0.95,16],[-1.22,1.35,12],[-1.16,1.7,22],[-1.1,1.8,13],[-1.04,1.65,15],[-0.98,1.45,10],[-0.92,1.3,12],[-0.86,1.45,17],[-0.8,1.85,14],[-0.74,2.5,13],[-0.68,3.0,9],[-0.62,3.1,11],[-0.56,2.85,12],[-0.5,2.2,16],[-0.44,1.35,15],[-0.38,0.4,14],[-0.32,-0.3,18],[-0.28,-0.45,22],[-0.24,-0.5,25],[-0.2,-0.2,16],[-0.14,0.5,15],[-0.08,1.3,12],[-0.02,1.95,10],[0.04,2.0,9],[0.1,1.95,12],[0.16,1.7,16],[0.22,1.45,15],[0.28,1.45,14],[0.34,1.7,12],[0.4,1.9,16],[0.46,2.0,13],[0.52,1.8,15],[0.58,1.3,12],[0.64,0.7,14],[0.7,0.25,13],[0.76,0.05,16],[0.82,0.35,14],[0.88,1.1,15],[0.94,2.2,13],[1.0,3.2,10],[1.06,3.6,16],[1.12,3.7,12],[1.18,3.0,14],[1.24,2.1,15],[1.3,1.2,13],[1.36,0.8,24],[1.42,0.9,16],[1.48,1.3,14],[1.56,1.85,15],[1.62,2.0,12],[1.68,1.95,16]],
  [[-2.0,0.2],[-1.98,0.3],[-1.96,0.45],[-1.95,0.6],[-1.93,0.85],[-1.9,1.25],[-1.72,3.6],[-1.6,3.5],[-1.45,1.1],[-1.35,0.7],[-1.3,0.65],[-1.25,0.9],[-1.08,1.8],[-0.95,1.3],[-0.85,1.8],[-0.8,2.2],[-0.63,3.25],[-0.45,1.95],[-0.32,-0.4],[-0.3,-0.5],[-0.26,-0.55],[-0.15,0.4],[-0.13,0.7],[-0.1,1.1],[-0.08,1.4],[0.05,2.25],[0.25,1.5],[0.4,1.95],[0.5,1.95],[0.6,1.4],[0.75,0.05],[0.78,0.15],[0.85,0.6],[0.9,1.1],[0.98,2.85],[1.05,3.65],[1.12,3.6],[1.18,2.95],[1.2,2.55],[1.22,2.3],[1.38,0.7],[1.52,1.55],[1.65,2.0],[1.85,0.7],[1.9,0.3],[1.95,0.1]],
  [[-2.15,0.02],[-2.1,0.03],[-2.05,0.05],[-1.83,1.0],[-1.8,1.1],[-1.72,2.85],[-1.6,3.55],[-1.3,0.95],[-1.25,0.75],[-1.2,1.1],[-1.15,1.45],[-1.1,1.65],[-1.05,1.8],[-0.92,1.2],[-0.65,2.9],[-0.45,2.25],[-0.3,-0.2],[-0.27,-0.45],[-0.24,-0.6],[-0.12,1.2],[-0.08,1.5],[0.02,2.15],[0.2,1.5],[0.35,1.45],[0.45,1.7],[0.5,1.95],[0.55,1.4],[0.6,1.0],[0.7,0.05],[0.75,0.0],[0.8,0.05],[0.9,1.35],[1.0,3.25],[1.05,3.4],[1.25,2.15],[1.3,1.35],[1.4,0.75],[1.45,0.9],[1.55,1.6],[1.62,1.9],[1.7,2.0],[1.75,1.6]],
  [[-5.85,2.54,0.3],[-5.37,2.82,0.3],[-5.1,-0.1,0.3],[-4.7,0.24,0.3],[-4.24,0.41,0.3],[-4.06,5.05,0.3],[-2.5,6.87,0.8],[2.07,-1.07,0.3],[0.51,-0.17,0.5],[1.55,-0.27,0.4],[-0.31,-0.1,0.6],[-0.31,-0.6,0.5],[-0.31,-1.1,0.4],[-0.31,-1.8,0.4],[0.05,3.57,1.8],[0.1,2.8,1.5],[-0.58,3.95,2],[0.88,0.58,0.8],[0.93,-0.45,0.5],[0.93,-0.8,0.4],[1.57,-1.65,0.3],[-1.32,0.0,0.5],[1.79,0.07,0.6],[-2.45,6.19,6],[-1.72,3.44,4],[-1.63,3.5,8],[-1.5,2.4,7],[-1.35,1.27,8],[-1.13,1.6,7],[-0.86,1.8,9],[-0.62,2.8,6],[-0.49,1.8,5],[-0.13,0.76,4],[0.15,1.6,6],[0.42,2.13,7],[0.66,1.8,10],[0.88,1.1,8],[1.15,3.16,5],[1.3,2.54,6],[1.43,1.8,9],[1.7,2.13,7],[-1.08,1.51,10],[0.51,1.8,9],[-1.55,2.1,6],[-0.3,0.3,3],[-0.02,1.9,5],[1.0,2.3,7],[1.2,3.8,3],[0.7,0.4,4]],
  [[-1.78,3.0,14],[-1.74,3.55,29],[-1.68,3.8,16],[-1.64,3.85,12],[-1.6,3.45,20],[-1.56,2.4,22],[-1.52,1.75,14],[-1.46,1.3,12],[-1.4,0.8,15],[-1.36,0.6,11],[-1.3,0.95,18],[-1.24,1.3,15],[-1.18,1.7,12],[-1.12,1.85,14],[-1.06,1.7,17],[-1.0,1.55,20],[-0.94,1.3,22],[-0.88,1.45,12],[-0.82,1.75,15],[-0.76,2.3,10],[-0.7,2.8,13],[-0.64,3.25,12],[-0.58,3.1,16],[-0.52,2.6,20],[-0.48,2.05,22],[-0.42,1.3,15],[-0.38,0.55,18],[-0.34,-0.05,12],[-0.3,-0.4,22],[-0.26,-0.45,20],[-0.22,-0.3,16],[-0.16,0.3,14],[-0.1,1.0,12],[-0.04,1.5,16],[0.02,2.0,15],[0.08,2.3,20],[0.14,1.85,12],[0.2,1.65,24],[0.26,1.45,13],[0.32,1.6,15],[0.38,1.8,12],[0.44,1.95,16],[0.5,1.9,14],[0.56,1.45,11],[0.6,1.05,18],[0.66,0.55,14],[0.72,0.15,16],[0.78,0.05,12],[0.84,0.6,15],[0.9,1.45,13],[0.96,2.3,17],[1.02,3.2,12],[1.08,3.75,10],[1.14,3.5,14],[1.2,2.85,16],[1.26,2.0,15],[1.32,1.1,12],[1.38,0.75,20],[1.44,0.95,13],[1.5,1.4,16],[1.56,1.8,12],[1.62,2.0,14],[1.68,1.95,18]],
  [[-2.08,0.1],[-1.95,0.3],[-1.93,0.5],[-1.9,0.7],[-1.88,0.85],[-1.85,1.25],[-1.8,2.0],[-1.78,2.35],[-1.76,2.7],[-1.72,3.05],[-1.65,3.85],[-1.55,3.2],[-1.45,1.7],[-1.3,0.95],[-1.28,1.0],[-1.2,1.45],[-1.1,1.8],[-1.0,1.3],[-0.8,1.9],[-0.65,3.15],[-0.4,0.85],[-0.35,0.0],[-0.32,-0.4],[-0.3,-0.5],[-0.28,-0.45],[-0.2,0.0],[-0.1,0.8],[-0.05,2.05],[0.02,2.15],[0.1,2.1],[0.2,1.55],[0.45,1.9],[0.7,0.25],[0.75,0.05],[0.78,0.15],[0.95,2.35],[1.02,3.55],[1.1,3.4],[1.15,2.9],[1.18,2.5],[1.2,2.25],[1.25,1.85],[1.35,0.75],[1.45,1.15],[1.58,1.95],[1.65,2.0],[1.85,0.75],[1.9,0.25],[2.4,0.02]],
  [[-2.0,0.1],[-1.98,0.25],[-1.96,0.45],[-1.94,0.75],[-1.92,1.0],[-1.9,1.3],[-1.85,1.7],[-1.8,2.5],[-1.58,3.7],[-1.55,3.4],[-1.35,1.1],[-1.3,0.9],[-1.25,1.05],[-1.2,1.4],[-1.15,1.6],[-1.1,1.6],[-0.98,1.5],[-0.8,1.75],[-0.6,3.2],[-0.45,1.6],[-0.4,0.5],[-0.35,0.0],[-0.32,-0.3],[-0.28,-0.5],[-0.25,-0.6],[-0.2,-0.4],[-0.12,1.4],[0.0,2.1],[0.05,2.15],[0.2,1.5],[0.4,1.85],[0.45,2.05],[0.55,1.6],[0.6,1.1],[0.7,0.4],[0.75,0.05],[0.8,0.1],[0.85,0.7],[0.9,1.1],[0.95,2.45],[1.1,3.7],[1.2,2.6],[1.38,0.75],[1.45,0.9],[1.5,1.1],[1.62,2.0],[1.8,1.1],[1.85,0.65],[1.9,0.4],[1.95,0.3]],
  [[-1.9,1.0,0.4],[-1.9,0.51,0.4],[-1.86,-0.35,0.4],[-1.86,-1.17,0.4],[-1.81,1.87,1.5],[-1.32,-1.44,0.4],[-1.13,-1.71,0.4],[-0.86,-2.57,0.4],[-0.33,-0.84,0.5],[-0.27,-1.11,0.4],[-0.3,0.46,0.8],[-0.25,0.2,0.6],[-0.28,-0.3,0.5],[0.62,-0.62,0.4],[1.79,0.87,0.5],[1.79,0.3,0.4],[1.8,0.0,0.4],[1.81,-0.3,0.5],[1.81,-0.6,0.4],[1.82,-0.84,0.4],[1.87,1.38,0.5],[-1.74,3.03,9],[-1.58,3.77,12],[-1.46,1.87,7],[-1.25,2.09,5],[-1.05,2.03,4],[-0.81,2.03,6],[-0.63,2.9,8],[-0.51,1.87,6],[-0.36,1.0,8],[-0.1,1.41,10],[0.08,2.22,7],[0.26,1.41,12],[0.48,2.49,4],[0.68,0.87,8],[0.98,3.44,14],[1.07,2.76,10],[1.21,2.63,17],[1.39,1.22,8],[1.51,1.27,6],[1.67,2.36,5],[-1.65,3.6,7],[-1.35,1.0,9],[-0.7,2.6,11],[-0.05,1.8,9],[0.35,1.6,11],[0.85,0.6,9],[1.1,3.5,8],[1.55,1.8,7]],
  [[-1.78,2.95,14],[-1.72,3.45,28],[-1.68,3.8,16],[-1.64,3.8,12],[-1.6,3.3,17],[-1.56,2.85,20],[-1.5,2.2,14],[-1.46,1.7,12],[-1.4,1.3,15],[-1.34,0.85,13],[-1.3,0.6,18],[-1.24,0.95,8],[-1.18,1.5,16],[-1.12,1.85,13],[-1.06,1.7,18],[-1.0,1.45,14],[-0.94,1.2,25],[-0.88,1.4,12],[-0.82,1.75,15],[-0.76,2.4,13],[-0.7,2.8,12],[-0.64,3.1,16],[-0.58,3.1,14],[-0.52,2.5,15],[-0.46,1.5,13],[-0.4,0.6,15],[-0.34,-0.1,18],[-0.3,-0.35,22],[-0.26,-0.5,20],[-0.22,-0.3,16],[-0.16,0.3,14],[-0.1,1.0,13],[-0.04,1.6,12],[0.0,2.2,8],[0.06,2.2,15],[0.12,1.9,13],[0.18,1.6,22],[0.24,1.4,16],[0.3,1.5,14],[0.36,1.7,12],[0.42,1.95,16],[0.48,1.95,14],[0.54,1.6,12],[0.6,1.1,15],[0.66,0.6,13],[0.72,0.2,16],[0.78,0.05,14],[0.84,0.55,12],[0.9,1.4,15],[0.96,2.4,13],[1.0,2.9,27],[1.04,3.5,15],[1.08,3.7,12],[1.14,3.4,16],[1.2,2.8,14],[1.26,1.8,13],[1.32,1.15,20],[1.38,0.9,15],[1.44,0.95,24],[1.5,1.35,14],[1.56,1.85,12],[1.62,2.0,16],[1.68,1.95,13]]
];

// axis extents and tick values per panel
const xRanges = [[-3.08,3.03],[-3.08,3.03],[-5.4,3.08],[-3.08,3.03],[-3.08,3.03],[-3.08,3.03],[-3.1,3.03],[-3.08,3.03],[-3.08,3.03],[-3.08,3.03],[-7.0,3.2],[-3.08,3.03],[-3.08,3.03],[-3.08,3.03],[-6.3,3.5],[-3.08,3.03],[-3.08,3.0],[-3.08,3.03],[-3.03,3.03],[-3.08,3.03]];
const yRanges = [[-3.1,4.69],[-3.3,4.72],[-6.7,6.55],[-3.15,4.65],[-3.37,4.72],[-3.34,4.75],[-6.38,6.47],[-3.08,4.68],[-3.06,4.67],[-3.19,4.75],[-6.58,6.35],[-5.02,5.05],[-3.5,4.72],[-3.0,4.7],[-7.85,9.9],[-3.07,4.68],[-3.1,4.69],[-3.13,4.8],[-6.99,6.78],[-3.51,4.67]];
const T2 = [-2,0,2], TY = [-2,0,2,4], TR = [-5,-2.5,0,2.5,5], TX5 = [-3,-2,-1,0,1,2];
const xTicks = [T2,T2,[-5,-2.5,0,2.5],T2, T2,T2,T2,T2, T2,T2,[-5,0],T2, T2,T2,[-5,-2.5,0,2.5],T2, TX5,TX5,T2,T2];
const yTicks = [TY,TY,TR,TY, TY,TY,TR,TY, TY,TY,TR,[-4,-2,0,2,4], TY,TY,[-5,0,5],TY, TY,TY,TR,TY];
const xDigits = [0,0,1,0, 0,0,0,0, 0,0,0,0, 0,0,1,0, 0,0,0,0];
const yDigits = [0,0,1,0, 0,0,1,0, 0,0,1,0, 0,0,0,0, 0,0,1,0];

// beta_M colour scale per coloured panel (RandomCVGP, CVGP), by row
const betaRanges = {2:[0.2,28.6],3:[8.9,31.0],6:[0.05,15.5],7:[6.1,28.1],10:[0.2,25.4],11:[7.3,28.4],14:[0.04,10.66],15:[9.06,29.9],18:[0.07,19.0],19:[7.0,29.0]};
const betaTicks = {2:[5,10,15,20,25],3:[10,15,20,25,30],6:[5,10,15],7:[10,15,20,25],10:[5,10,15,20,25],11:[10,15,20,25],14:[2,4,6,8,10],15:[10,15,20,25],18:[5,10,15],19:[10,15,20,25]};

// ---- layout & style ----------------------------------------------------
const SERIF = "'Liberation Serif','DejaVu Serif',serif";
const VIRIDIS = ['#440154','#482878','#3e4989','#31688e','#26828e','#1f9e89','#35b779','#6ece58','#b5de2b','#fde725'];
const PLUS = 'path://M3.35,0h1.3v3.35h3.35v1.3h-3.35v3.35h-1.3v-3.35h-3.35v-1.3h3.35z';
const C_MEAN = '#1f77b4', C_OBS = '#ff7f0e', C_BAND = 'rgba(31,119,180,0.25)';
const N_MEAN = 'Posterior Predictive Mean';
const N_F = 'Data Generating Function (f)';
const N_BAND = 'Posterior Predictive Deviation (2 units)';
const N_OBS = 'Observations X, y';
const N_IND = 'Inducing Point Locations';

const colLeft = [46.5, 316.5, 588, 859];
const colWidth = [224.5, 225.5, 180, 180];
const rowTop = [25.5, 237.5, 449.5, 661.5, 872];
const rowHeight = [172, 172, 172, 172, 170];
const cbLeft = {2: 779, 3: 1050};
const CB_W = 10;

const minus = (s) => s.replace('-', '\u2212');
const fmt = (d) => (v) => minus(d ? Number(v).toFixed(d) : String(Math.round(v)));

function bandRenderer(rows) {
  return function (params, api) {
    if (params.dataIndex !== 0) return null;
    const lower = rows.map(r => api.coord([r[0], r[1]]));
    const upper = rows.map(r => api.coord([r[0], r[2]])).reverse();
    return { type: 'polygon', shape: { points: lower.concat(upper) }, style: { fill: C_BAND } };
  };
}

const grid = [], xAxis = [], yAxis = [], series = [], visualMap = [], title = [];
const axisTickStyle = { show: true, inside: false, length: 3.5, lineStyle: { color: '#000', width: 1 } };
const labelStyle = { fontFamily: SERIF, fontSize: 14, color: '#222' };

for (let r = 0; r < 5; r++) {
  for (let c = 0; c < 4; c++) {
    const p = r * 4 + c;
    grid.push({ left: colLeft[c], top: rowTop[r], width: colWidth[c], height: rowHeight[r],
      show: true, borderColor: '#000', borderWidth: 1, backgroundColor: 'transparent' });
    title.push({ text: modelNames[c], left: colLeft[c] + colWidth[c] / 2, top: rowTop[r] - 21,
      textAlign: 'center', padding: 0,
      textStyle: { fontFamily: SERIF, fontSize: 20, fontWeight: 'normal', color: '#111' } });

    const xa = { gridIndex: p, type: 'value', min: xRanges[p][0], max: xRanges[p][1],
      axisLine: { show: false, onZero: false },
      axisTick: Object.assign({ customValues: xTicks[p] }, axisTickStyle),
      axisLabel: Object.assign({ customValues: xTicks[p], formatter: fmt(xDigits[p]), margin: 4 }, labelStyle),
      splitLine: { show: false } };
    if (r === 4) {
      xa.name = 'x'; xa.nameLocation = 'middle'; xa.nameGap = 12;
      xa.nameTextStyle = { fontFamily: SERIF, fontStyle: 'italic', fontSize: 22, color: '#111' };
    }
    xAxis.push(xa);
    const ya = { gridIndex: p, type: 'value', min: yRanges[p][0], max: yRanges[p][1],
      axisLine: { show: false, onZero: false },
      axisTick: Object.assign({ customValues: yTicks[p] }, axisTickStyle),
      axisLabel: Object.assign({ customValues: yTicks[p], formatter: fmt(yDigits[p]), margin: 5 }, labelStyle),
      splitLine: { show: false } };
    if (c === 0) {
      ya.name = 'y'; ya.nameLocation = 'middle'; ya.nameGap = 15; ya.nameRotate = 90;
      ya.nameTextStyle = { fontFamily: SERIF, fontStyle: 'italic', fontSize: 24, color: '#111' };
    }
    yAxis.push(ya);

    // band rows and mean curve built from tails + data-range curve
    const w = coreHalfWidth[c];
    const rows = []
      .concat(tailsLeft[p].map(t => [t[0], t[2], t[3]]))
      .concat(fX.map((x, i) => [x, fY[i] - w, fY[i] + w]))
      .concat(tailsRight[p].map(t => [t[0], t[2], t[3]]));
    const meanPts = []
      .concat(tailsLeft[p].map(t => [t[0], t[1]]))
      .concat(fX.map((x, i) => [x, fY[i]]))
      .concat(tailsRight[p].map(t => [t[0], t[1]]));

    series.push({ type: 'custom', name: N_BAND, xAxisIndex: p, yAxisIndex: p, data: rows,
      renderItem: bandRenderer(rows), clip: true, silent: true, z: 1,
      itemStyle: { color: C_BAND } });
    series.push({ type: 'line', name: N_F, xAxisIndex: p, yAxisIndex: p,
      data: fX.map((x, i) => [x, fY[i]]), symbol: 'none',
      lineStyle: { color: C_OBS, width: 1, type: [3, 2] }, itemStyle: { color: C_OBS }, silent: true, z: 2 });
    series.push({ type: 'line', name: N_MEAN, xAxisIndex: p, yAxisIndex: p, data: meanPts,
      symbol: 'none', smooth: 0.25, lineStyle: { color: C_MEAN, width: 1.3 },
      itemStyle: { color: C_MEAN }, silent: true, z: 3 });
    series.push({ type: 'scatter', name: N_OBS, xAxisIndex: p, yAxisIndex: p,
      data: obsX.map((x, i) => [x, obsY[i]]), symbol: PLUS, symbolSize: 7.5,
      itemStyle: { color: C_OBS, opacity: 0.8 }, silent: true, z: 4 });
    const indIdx = series.length;
    series.push({ type: 'scatter', name: N_IND, xAxisIndex: p, yAxisIndex: p,
      data: inducing[p], symbol: 'circle', symbolSize: 6.5,
      itemStyle: c < 2 ? { color: '#440154', opacity: 1 } : { opacity: 1 }, silent: true, z: 5 });
    if (c >= 2) {
      visualMap.push({ type: 'continuous', show: false, seriesIndex: indIdx, dimension: 2,
        min: betaRanges[p][0], max: betaRanges[p][1], inRange: { color: VIRIDIS } });
    }
  }
}

// colour bars for beta_M
const stops = VIRIDIS.map((col, i) => ({ offset: i / (VIRIDIS.length - 1), color: col }));
for (let r = 0; r < 5; r++) {
  for (let c = 2; c < 4; c++) {
    const p = r * 4 + c;
    const gi = grid.length;
    grid.push({ left: cbLeft[c], top: rowTop[r], width: CB_W, height: rowHeight[r],
      show: true, borderColor: '#000', borderWidth: 1, backgroundColor: 'transparent' });
    xAxis.push({ gridIndex: gi, type: 'value', min: 0, max: 1, show: false });
    yAxis.push({ gridIndex: gi, type: 'value', position: 'right',
      min: betaRanges[p][0], max: betaRanges[p][1],
      axisLine: { show: false, onZero: false },
      axisTick: Object.assign({ customValues: betaTicks[p] }, axisTickStyle),
      axisLabel: Object.assign({ customValues: betaTicks[p], formatter: fmt(0), margin: 4 }, labelStyle),
      splitLine: { show: false },
      name: '{b|\u03b2}{s|M}', nameLocation: 'middle', nameRotate: 90, nameGap: 12,
      nameTextStyle: { rich: {
        b: { fontFamily: SERIF, fontStyle: 'italic', fontSize: 22, lineHeight: 26, color: '#111' },
        s: { fontFamily: SERIF, fontStyle: 'italic', fontSize: 15, lineHeight: 15, verticalAlign: 'bottom', color: '#111' } } } });
    series.push({ type: 'custom', xAxisIndex: gi, yAxisIndex: gi, silent: true, z: 1,
      data: [[0, betaRanges[p][0], betaRanges[p][1]]],
      renderItem: function (params, api) {
        const top = api.coord([0, api.value(2)]);
        const bot = api.coord([1, api.value(1)]);
        return { type: 'rect', shape: { x: top[0], y: top[1], width: bot[0] - top[0], height: bot[1] - top[1] },
          style: { fill: new echarts.graphic.LinearGradient(0, 1, 0, 0, stops) } };
      } });
  }
}

const legend = {
  left: 67, top: 1097, orient: 'horizontal', selectedMode: false,
  itemWidth: 25, itemHeight: 14, itemGap: 24, padding: [5, 10, 5, 10],
  borderColor: '#cccccc', borderWidth: 1, borderRadius: 3, backgroundColor: '#fff',
  textStyle: { fontFamily: SERIF, fontSize: 13, color: '#222',
    rich: { bf: { fontFamily: SERIF, fontSize: 13, fontWeight: 'bold', color: '#222' },
            it: { fontFamily: SERIF, fontSize: 13, fontStyle: 'italic', color: '#222' } } },
  formatter: function (name) {
    if (name === N_OBS) return 'Observations {bf|X, y}';
    if (name === N_F) return 'Data Generating Function ({it|f})';
    return name;
  },
  data: [
    { name: N_MEAN, icon: 'path://M0,0M25,14M0,6.3H25V7.7H0Z', itemStyle: { color: C_MEAN } },
    { name: N_F, icon: 'path://M0,0M25,14M0,6.4h3.5v1.2h-3.5zM5.5,6.4h3.5v1.2h-3.5zM11,6.4h3.5v1.2h-3.5zM16.5,6.4h3.5v1.2h-3.5zM22,6.4h3v1.2h-3z', itemStyle: { color: C_OBS } },
    { name: N_BAND, icon: 'path://M0,0M25,14M2,1.5h21v11h-21z', itemStyle: { color: C_BAND } },
    { name: N_OBS, icon: 'path://M0,0M25,14M10.5,6.5h4v1h-4zM12,5h1v4h-1z', itemStyle: { color: C_OBS } },
    { name: N_IND, icon: 'path://M0,0M25,14M10,7a2.5,2.5 0 1 0 5,0a2.5,2.5 0 1 0 -5,0z', itemStyle: { color: C_MEAN } }
  ]
};

const chart = echarts.init(document.getElementById('chart'), null, { renderer: 'canvas' });
chart.setOption({
  animation: false,
  backgroundColor: '#fff',
  textStyle: { fontFamily: SERIF },
  title, grid, xAxis, yAxis, series, visualMap, legend
});
</script>
</body>
</html>
